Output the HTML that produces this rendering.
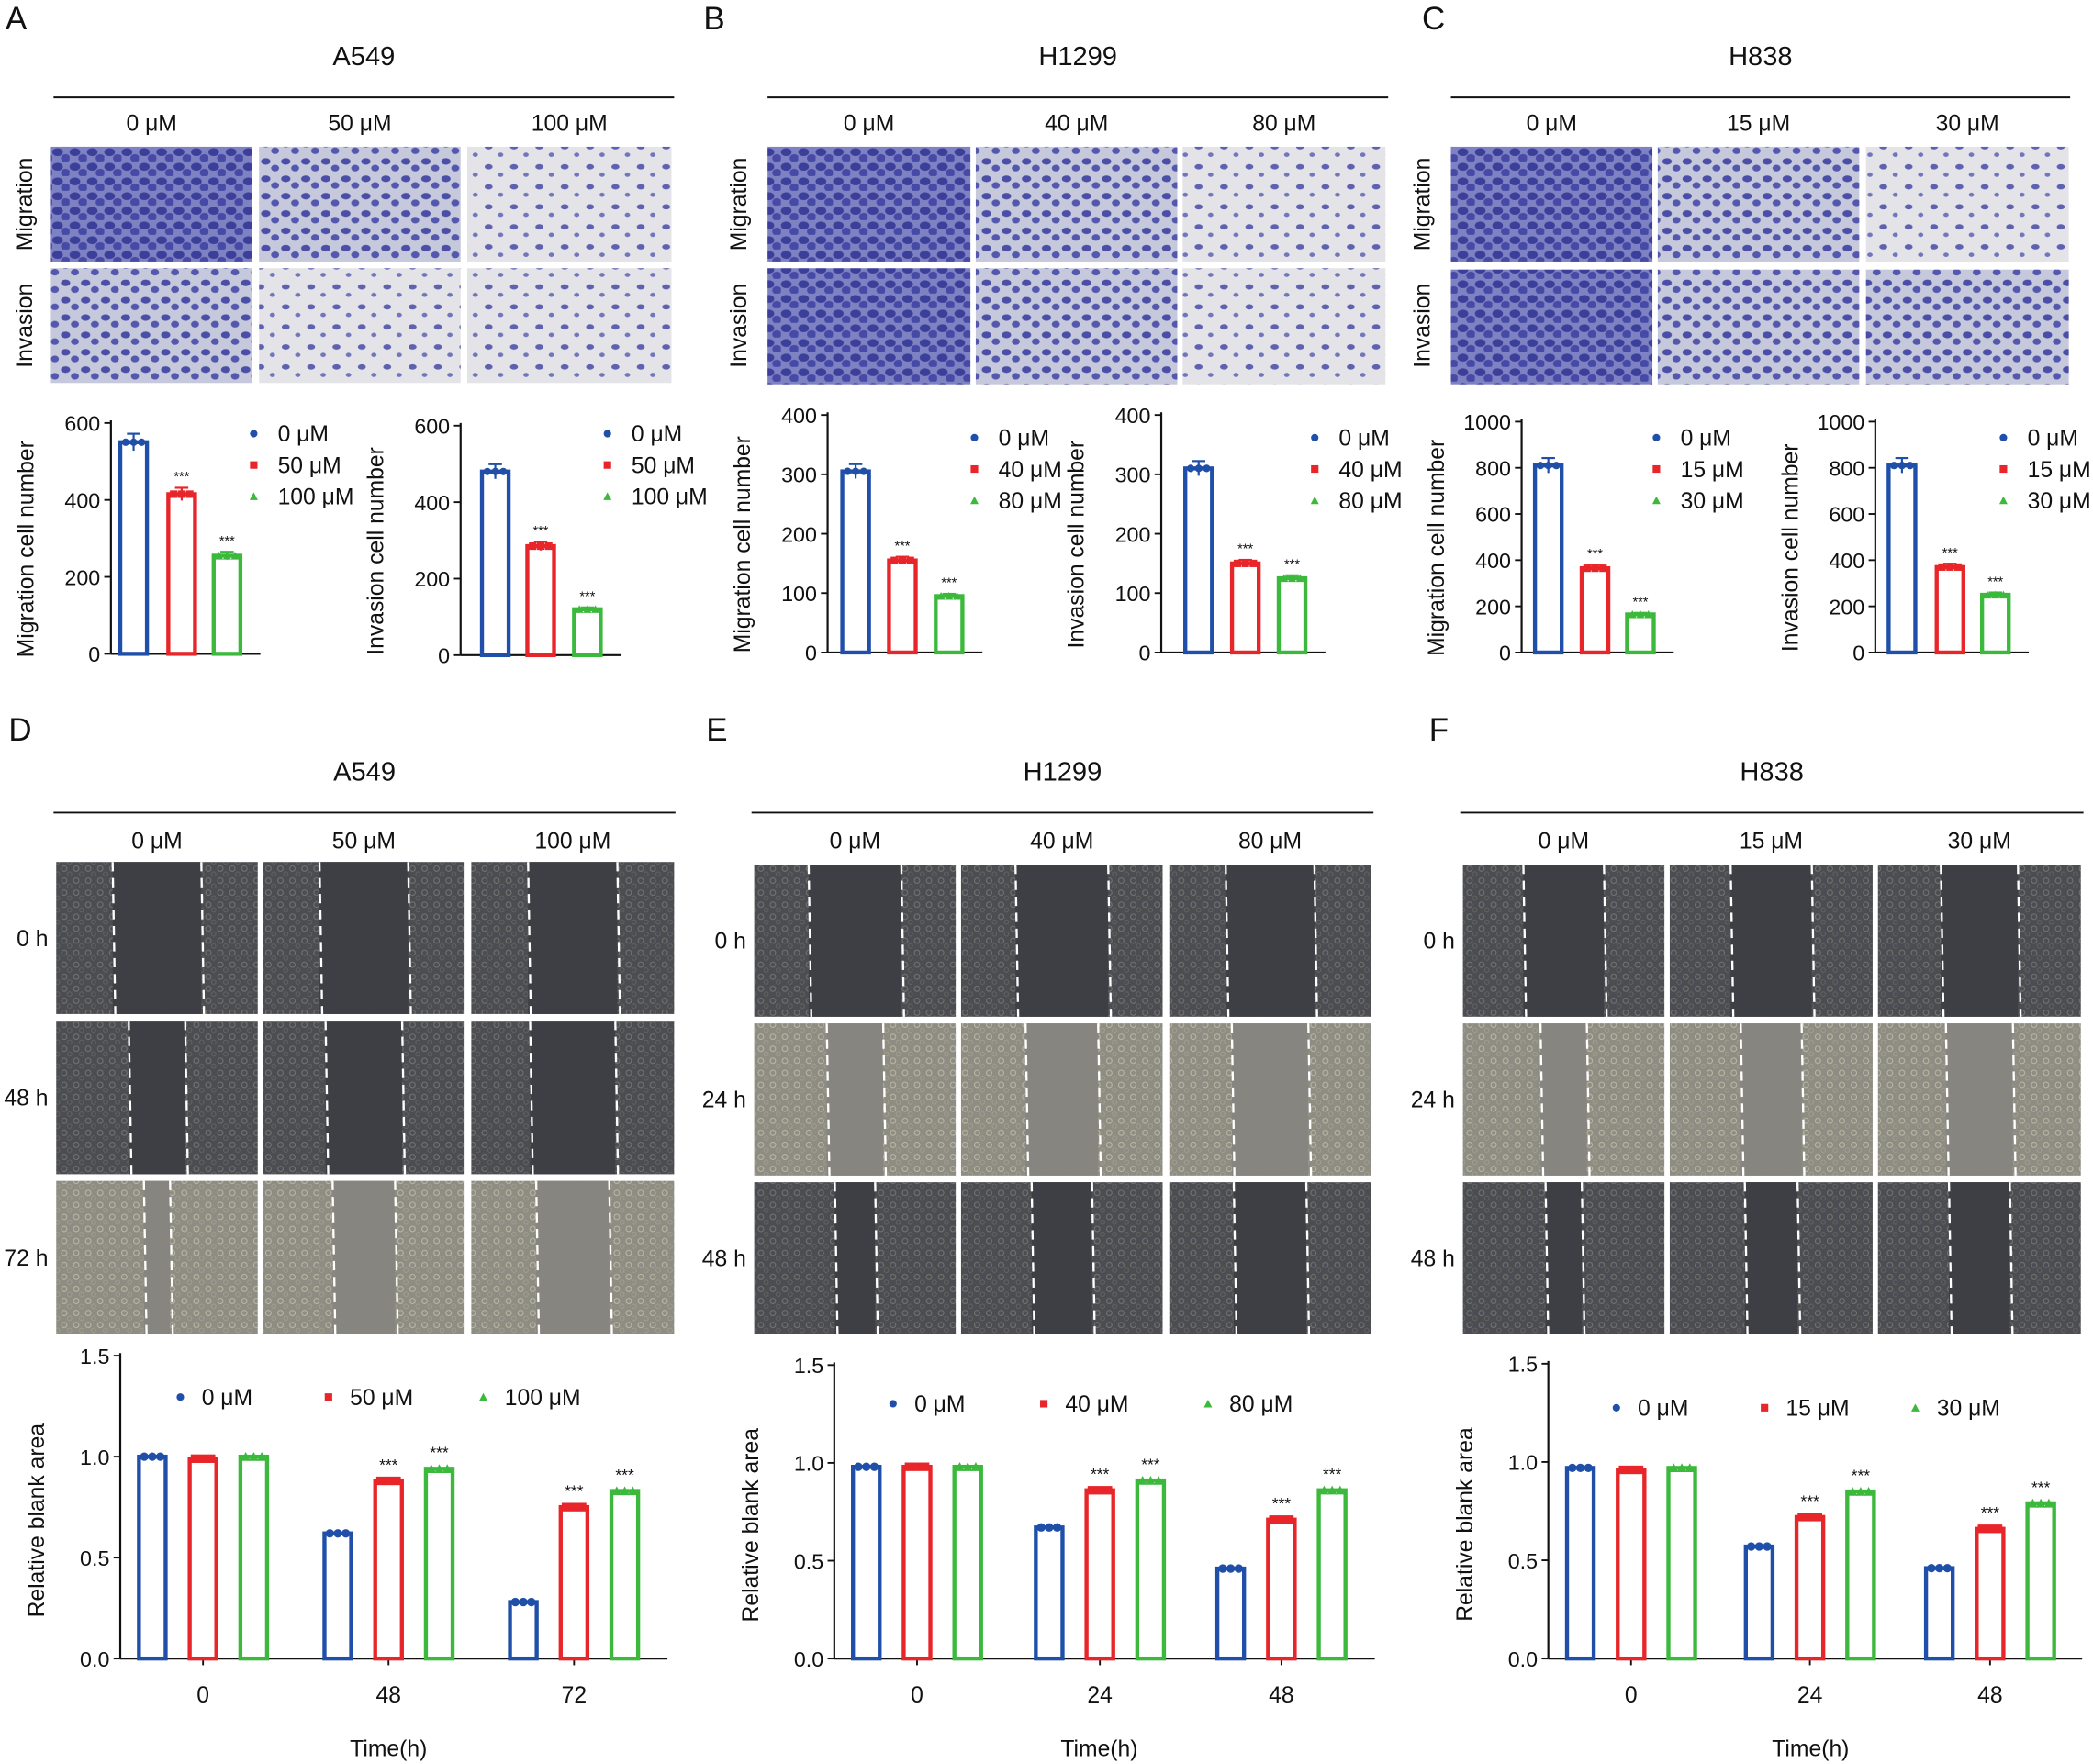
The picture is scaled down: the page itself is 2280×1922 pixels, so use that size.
<!DOCTYPE html>
<html><head><meta charset="utf-8"><style>
html,body{margin:0;padding:0;background:#fff;}
svg{display:block;font-family:"Liberation Sans",Arial,sans-serif;}
</style></head><body>
<svg id="fig" width="2280" height="1922" viewBox="0 0 1568 1322" xmlns="http://www.w3.org/2000/svg">
<defs>
<pattern id="twDense" width="13" height="11" patternUnits="userSpaceOnUse">
<rect width="13" height="11" fill="#7f82c2"/><ellipse cx="4" cy="4" rx="4" ry="3" fill="#3b3f9a"/><ellipse cx="10" cy="8.5" rx="3.5" ry="3" fill="#464aa6"/></pattern>
<pattern id="twMid" width="15" height="13" patternUnits="userSpaceOnUse">
<rect width="15" height="13" fill="#c6c8dc"/><ellipse cx="4" cy="4" rx="3.5" ry="2.5" fill="#4a4ea6"/><ellipse cx="11" cy="9" rx="3" ry="2.5" fill="#5357ad"/></pattern>
<pattern id="twSparse" width="19" height="15" patternUnits="userSpaceOnUse">
<rect width="19" height="15" fill="#e4e4e8"/><ellipse cx="5" cy="5" rx="3" ry="2" fill="#5d61b0"/><ellipse cx="14" cy="11" rx="2" ry="1.6" fill="#7175bb"/></pattern>
<pattern id="woundEdge" width="9" height="9" patternUnits="userSpaceOnUse">
<rect width="9" height="9" fill="#4c4d53"/><circle cx="3" cy="3" r="2" fill="none" stroke="#75756f" stroke-width="0.7"/><circle cx="7" cy="7" r="1.6" fill="none" stroke="#67675f" stroke-width="0.6"/></pattern>
<pattern id="woundLight" width="9" height="9" patternUnits="userSpaceOnUse">
<rect width="9" height="9" fill="#8e8d84"/><circle cx="3" cy="3" r="2" fill="none" stroke="#bdb9a2" stroke-width="0.7"/><circle cx="7" cy="7" r="1.6" fill="none" stroke="#a5a18c" stroke-width="0.6"/></pattern>
</defs>
<g id="root"></g>
</svg>
<script>
// ---- data ----
const doseA=["0 μM","50 μM","100 μM"];
const doseB=["0 μM","40 μM","80 μM"];
const doseC=["0 μM","15 μM","30 μM"];
const ticks600=[0,200,400,600];
const ticks400=[0,100,200,300,400];
const ticks1000=[0,200,400,600,800,1000];
const ticks15=["0.0","0.5","1.0","1.5"];
const aMigVals=[550,415,255];
const aInvVals=[480,285,120];
const bMigVals=[305,155,95];
const bInvVals=[310,150,125];
const cMigVals=[810,365,165];
const cInvVals=[810,370,250];
const dTimes=["0","48","72"];
const eTimes=["0","24","48"];
const fTimes=["0","24","48"];
const dCtrl=[1.0,0.62,0.28], dLow=[0.99,0.88,0.75], dHigh=[1.0,0.94,0.83];
const eCtrl=[0.98,0.67,0.46], eLow=[0.98,0.86,0.71], eHigh=[0.98,0.91,0.86];
const fCtrl=[0.97,0.57,0.46], fLow=[0.96,0.72,0.66], fHigh=[0.97,0.85,0.79];

const COLS=["#1f4fa8","#e8262a","#3cb93c"];
const NS="http://www.w3.org/2000/svg";
const root=document.getElementById('root');
function el(tag,attrs,parent,text){const e=document.createElementNS(NS,tag);for(const k in attrs)e.setAttribute(k,attrs[k]);if(text!==undefined)e.textContent=text;(parent||root).appendChild(e);return e;}
function txt(x,y,s,size,name,anchor,rot){const t=el('text',{x:x,y:y,'font-size':size,'text-anchor':anchor||'middle',fill:'#111'},root,s);


if(rot)t.setAttribute('transform','rotate(-90 '+x+' '+y+')');return t;}
function marker(g,i,x,y,s){
 let m;
 if(i===0)m=el('circle',{cx:x,cy:y,r:s,fill:COLS[0]},g);
 else if(i===1)m=el('rect',{x:x-s,y:y-s,width:2*s,height:2*s,fill:COLS[1]},g);
 else m=el('polygon',{points:(x-s*1.1)+','+(y+s)+' '+(x+s*1.1)+','+(y+s)+' '+x+','+(y-s*1.1),fill:COLS[2]},g);
 
 
}
// panel letters
[["A",12,22],["B",535,22],["C",1074,22],["D",15,555],["E",537,555],["F",1078,555]].forEach(p=>txt(p[1],p[2],p[0],24,'panel-letter-'+p[0].toLowerCase()));

// transwell panels
function transwell(cell,x0,x1,cols,doses,rows,patterns){
 txt((x0+x1)/2,49,cell,20,'cell-line-title');
 const ln=el('line',{x1:x0,x2:x1,y1:73,y2:73,stroke:'#111','stroke-width':1.3});
 
 cols.forEach((c,i)=>{txt((c[0]+c[1])/2,98,doses[i],17,'dose-label');
  rows.forEach((r,j)=>{const rc=el('rect',{x:c[0],y:r[0],width:c[1]-c[0],height:r[1]-r[0],fill:'url(#'+patterns[j][i]+')'});
   });});
 txt(x0-16,153,'Migration',17,'row-label-migration','middle',true);
 txt(x0-16,244,'Invasion',17,'row-label-invasion','middle',true);
}
const pats=[["twDense","twMid","twSparse"],["twMid","twSparse","twSparse"]];
transwell("A549",40,505,[[38,189],[194,345],[350,503]],doseA,[[110,196],[201,287]],pats);
transwell("H1299",575,1040,[[575,727],[731,882],[886,1038]],doseB,[[110,196],[201,288]],[["twDense","twMid","twSparse"],["twDense","twMid","twSparse"]]);
transwell("H838",1087,1551,[[1087,1238],[1242,1393],[1398,1550]],doseC,[[110,196],[202,288]],[["twDense","twMid","twSparse"],["twDense","twMid","twMid"]]);

// top bar charts
function topChart(ax,y0,yTop,ticks,vals,xs,label,doses,legX,legY){
 const max=ticks[ticks.length-1];const ys=v=>y0-(v/max)*(y0-yTop);
 const g=el('g',{});
 el('line',{x1:ax,x2:ax,y1:yTop-2,y2:y0,stroke:'#111','stroke-width':1.5},g);
 el('line',{x1:ax,x2:xs[2]+25,y1:y0,y2:y0,stroke:'#111','stroke-width':1.5},g);
 ticks.forEach(t=>{el('line',{x1:ax-5,x2:ax,y1:ys(t),y2:ys(t),stroke:'#111','stroke-width':1.3},g);
  txt(ax-8,ys(t)+6,String(t),16,'y-tick-label','end');});
 vals.forEach((v,i)=>{const b=el('rect',{x:xs[i]-10,y:ys(v),width:20,height:y0-ys(v),fill:'#fff',stroke:COLS[i],'stroke-width':3},g);
  
  el('line',{x1:xs[i],x2:xs[i],y1:ys(v*1.04),y2:ys(v*0.96),stroke:COLS[i],'stroke-width':1.5},g);
  el('line',{x1:xs[i]-5,x2:xs[i]+5,y1:ys(v*1.04),y2:ys(v*1.04),stroke:COLS[i],'stroke-width':1.5},g);
  [-6,0,6].forEach(d=>marker(g,i,xs[i]+d,ys(v),2.8));
  if(i>0)txt(xs[i],ys(v*1.04)-5,'***',10,'significance-stars');});
 txt(ax-58,(y0+yTop)/2+8,label,17,'y-axis-title','middle',true);
 doses.forEach((d,i)=>{const gg=el('g',{});
  marker(gg,i,legX,legY+i*23.5,2.8);txt(legX+18,legY+i*23.5+6,d,17,'legend-label','start');});
}
topChart(83,490,317,ticks600,aMigVals,[100,136,170],'Migration cell number',doseA,190,325);
topChart(345,491,319,ticks600,aInvVals,[371,405,440],'Invasion cell number',doseA,455,325);
topChart(620,489,311,ticks400,bMigVals,[641,676,711],'Migration cell number',doseB,730,328);
topChart(870,489,311,ticks400,bInvVals,[898,933,968],'Invasion cell number',doseB,985,328);
topChart(1140,489,316,ticks1000,cMigVals,[1160,1195,1229],'Migration cell number',doseC,1241,328);
topChart(1405,489,316,ticks1000,cInvVals,[1425,1461,1495],'Invasion cell number',doseC,1501,328);

// wound panels
function wound(cell,x0,x1,cols,doses,rows,times,gaps,light){
 txt((x0+x1)/2,585,cell,20,'cell-line-title');
 const ln=el('line',{x1:x0,x2:x1,y1:609,y2:609,stroke:'#111','stroke-width':1.3});
 
 cols.forEach((c,i)=>{txt((c[0]+c[1])/2,636,doses[i],17,'dose-label');
  rows.forEach((r,j)=>{const w=c[1]-c[0],h=r[1]-r[0];
   const g=el('g',{});
   el('rect',{x:c[0],y:r[0],width:w,height:h,fill:light[j]?'url(#woundLight)':'url(#woundEdge)'},g);
   const gw=gaps[j][i]*w;const cx=c[0]+w/2;
   el('rect',{x:cx-gw/2,y:r[0],width:gw,height:h,fill:light[j]?'#86857f':'#3e3f44'},g);
   [cx-gw/2,cx+gw/2].forEach(xx=>el('line',{x1:xx,x2:xx+2,y1:r[0],y2:r[1],stroke:'#fff','stroke-width':1.6,'stroke-dasharray':'7 5'},g));});});
 rows.forEach((r,j)=>txt(x0-4,(r[0]+r[1])/2+6,times[j],17,'time-row-label','end'));
}
wound("A549",40,506,[[42,193],[197,348],[353,505]],doseA,[[646,760],[765,880],[885,1000]],["0 h","48 h","72 h"],[[0.44,0.44,0.44],[0.28,0.38,0.42],[0.13,0.31,0.36]],[false,false,true]);
wound("H1299",563,1029,[[565,716],[720,871],[876,1027]],doseB,[[648,762],[767,881],[886,1000]],["0 h","24 h","48 h"],[[0.46,0.46,0.44],[0.28,0.36,0.38],[0.2,0.3,0.36]],[false,true,false]);
wound("H838",1094,1561,[[1096,1247],[1251,1403],[1407,1559]],doseC,[[648,762],[767,881],[886,1000]],["0 h","24 h","48 h"],[[0.4,0.4,0.38],[0.23,0.3,0.33],[0.18,0.26,0.3]],[false,true,false]);

// bottom grouped charts
function bottomChart(ax,y0,yTop,groups,times,series,doses,legXs,legY,xEnd){
 const ys=v=>y0-(v/1.5)*(y0-yTop);
 const g=el('g',{});
 el('line',{x1:ax,x2:ax,y1:yTop-2,y2:y0,stroke:'#111','stroke-width':1.5},g);
 el('line',{x1:ax,x2:xEnd,y1:y0,y2:y0,stroke:'#111','stroke-width':1.5},g);
 ticks15.forEach(t=>{const v=parseFloat(t);el('line',{x1:ax-5,x2:ax,y1:ys(v),y2:ys(v),stroke:'#111','stroke-width':1.3},g);
  txt(ax-8,ys(v)+6,t,16,'y-tick-label','end');});
 groups.forEach((gx,k)=>{el('line',{x1:gx,x2:gx,y1:y0,y2:y0+5,stroke:'#111','stroke-width':1.3},g);
  txt(gx,y0+33,times[k],17,'x-tick-label');
  series.forEach((s,i)=>{const x=gx+(i-1)*38,v=s[k];
   const b=el('rect',{x:x-10,y:ys(v),width:20,height:y0-ys(v),fill:'#fff',stroke:COLS[i],'stroke-width':3},g);
   
   [-6,0,6].forEach(d=>marker(g,i,x+d,ys(v),3.2));
   if(i>0&&k>0)txt(x,ys(v)-8,'***',12,'significance-stars');});});
 txt(ax-57,(y0+yTop)/2+10,'Relative blank area',17,'y-axis-title','middle',true);
 txt((groups[0]+groups[2])/2,y0+73,'Time(h)',17,'x-axis-title');
 doses.forEach((d,i)=>{const gg=el('g',{});
  marker(gg,i,legXs[i],legY,2.8);txt(legXs[i]+16,legY+6,d,17,'legend-label','start');});
}
bottomChart(90,1243,1016,[152,291,430],dTimes,[dCtrl,dLow,dHigh],doseA,[135,246,362],1047,500);
bottomChart(625,1243,1023,[687,824,960],eTimes,[eCtrl,eLow,eHigh],doseB,[669,782,905],1052,1030);
bottomChart(1160,1243,1022,[1222,1356,1491],fTimes,[fCtrl,fLow,fHigh],doseC,[1211,1322,1435],1055,1560);
</script>
</body></html>
